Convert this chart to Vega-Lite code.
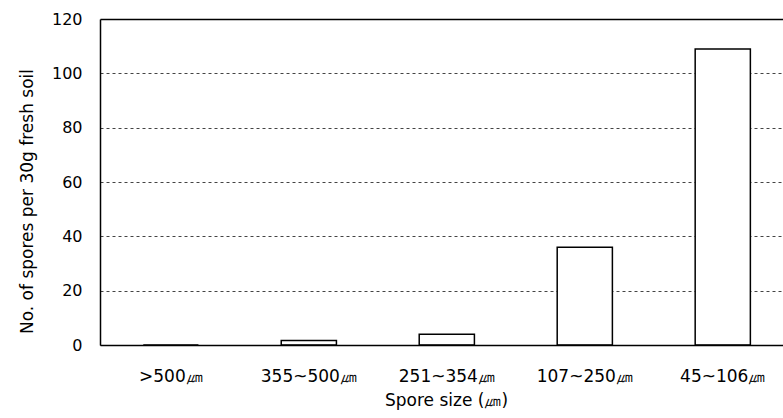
{
  "$schema": "https://vega.github.io/schema/vega-lite/v6.json",
  "width": 683,
  "height": 326,
  "autosize": {"type": "none"},
  "padding": {"left": 100, "top": 19, "right": 0, "bottom": 73},
  "background": "white",
  "config": {"view": {"stroke": null}, "font": "DejaVu Sans"},
  "data": {
    "values": [
      {"size": ">500㎛", "count": 0},
      {"size": "355~500㎛", "count": 1.7},
      {"size": "251~354㎛", "count": 4},
      {"size": "107~250㎛", "count": 36},
      {"size": "45~106㎛", "count": 109}
    ]
  },
  "mark": {"type": "bar", "fill": "white", "stroke": "black", "strokeWidth": 1.5},
  "encoding": {
    "x": {
      "field": "size",
      "type": "nominal",
      "sort": null,
      "scale": {"paddingInner": 0.6, "paddingOuter": 0.275, "align": 0.57},
      "axis": {
        "title": "Spore size (㎛)",
        "titleFontSize": 17,
        "titleFontWeight": "normal",
        "titleColor": "black",
        "titlePadding": 8,
        "titleX": 346,
        "labelAngle": 0,
        "labelFontSize": 17,
        "labelColor": "black",
        "labelPadding": 23,
        "ticks": false,
        "tickSize": 0,
        "domainColor": "black",
        "domainWidth": 1.5,
        "zindex": 1
      }
    },
    "y": {
      "field": "count",
      "type": "quantitative",
      "scale": {"domain": [0, 120]},
      "axis": {
        "title": "No. of spores per 30g fresh soil",
        "titleFontSize": 17,
        "titleFontWeight": "normal",
        "titleColor": "black",
        "titlePadding": 15,
        "titleY": 182,
        "values": [0, 20, 40, 60, 80, 100, 120],
        "labelFontSize": 16,
        "labelColor": "black",
        "labelPadding": 18,
        "ticks": false,
        "tickSize": 0,
        "domainColor": "black",
        "domainWidth": 1.5,
        "grid": true,
        "gridColor": {"condition": {"test": "datum.value === 120", "value": "black"}, "value": "#444444"},
        "gridDash": {"condition": {"test": "datum.value === 120", "value": []}, "value": [3, 3]},
        "gridWidth": {"condition": {"test": "datum.value === 120", "value": 1.5}, "value": 1}
      }
    }
  }
}
